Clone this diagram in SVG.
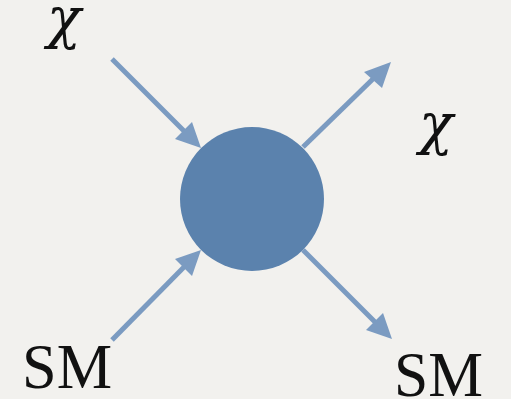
<svg xmlns="http://www.w3.org/2000/svg" width="511" height="399" viewBox="0 0 511 399">
<defs>
<style>
.arrow{stroke:#7b9bc1;stroke-width:5;fill:none}
.head{fill:#7b9bc1}
.lbl{fill:#111}
.greek{font-family:"DejaVu Serif","Liberation Serif",serif;font-style:italic;font-size:56px}
.sm{font-family:"Liberation Serif","DejaVu Serif",serif;font-size:64px}
</style>
</defs>
<rect width="511" height="399" fill="#f2f1ee"/>
<g id="connectors">
<line class="arrow" x1="112" y1="59" x2="186" y2="133"/>
<polygon class="head" points="201,148 175,139 192,122"/>
<line class="arrow" x1="303" y1="147" x2="376" y2="76"/>
<polygon class="head" points="391,62 364,72 382,88"/>
<line class="arrow" x1="112" y1="340" x2="186" y2="265"/>
<polygon class="head" points="201,250 175,259 192,276"/>
<line class="arrow" x1="303" y1="250" x2="377" y2="324"/>
<polygon class="head" points="392,339 366,330 383,313"/>
</g>
<g id="vertex">
<circle cx="252" cy="199" r="72" fill="#5b82ad"/>
</g>
<g id="chi-in"><text class="lbl greek" x="47" y="37">χ</text></g>
<g id="chi-out"><text class="lbl greek" x="419" y="143">χ</text></g>
<g id="sm-in"><text class="lbl sm" x="22" y="388" textLength="90" lengthAdjust="spacingAndGlyphs">SM</text></g>
<g id="sm-out"><text class="lbl sm" x="394" y="396" textLength="89" lengthAdjust="spacingAndGlyphs">SM</text></g>
</svg>
